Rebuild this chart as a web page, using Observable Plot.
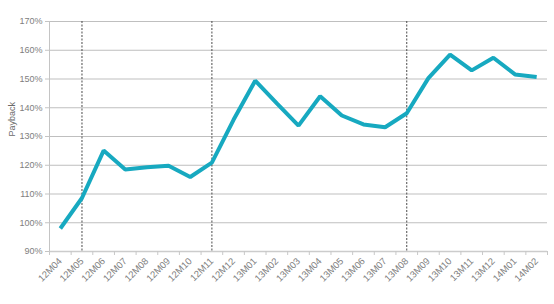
<!DOCTYPE html>
<html><head><meta charset="utf-8">
<script src="https://cdn.jsdelivr.net/npm/d3@7"></script>
<script src="https://cdn.jsdelivr.net/npm/@observablehq/plot@0.6"></script>
<style>body{margin:0;background:#fff} svg{display:block}</style>
</head><body><div id="chart"></div>
<script>
const months = ["12M04","12M05","12M06","12M07","12M08","12M09","12M10","12M11","12M12",
  "13M01","13M02","13M03","13M04","13M05","13M06","13M07","13M08","13M09","13M10","13M11","13M12",
  "14M01","14M02"];
const payback = [98.0,108.6,125.1,118.5,119.3,119.8,115.9,120.9,135.8,
  149.4,141.5,133.8,144.0,137.3,134.2,133.2,138.1,150.3,158.5,153.0,157.4,
  151.6,150.7];
const markers = ["12M05","12M11","13M08"];
const yTicks = [90,100,110,120,130,140,150,160,170];

const data = months.map((m, i) => ({i, m, v: payback[i]}));
const idx = m => months.indexOf(m);
const boundaries = d3.range(months.length + 1).map(i => i - 0.5);

const chart = Plot.plot({
  width: 554, height: 304,
  marginLeft: 49, marginRight: 7, marginTop: 21, marginBottom: 53,
  style: {fontFamily: "'Liberation Sans', Arial, sans-serif", fontSize: "9px", color: "#808080", background: "#fff"},
  x: {type: "linear", domain: [-0.5, months.length - 0.5]},
  y: {domain: [90, 170]},
  marks: [
    Plot.ruleY(yTicks.slice(1), {stroke: "#bfbfbf", strokeWidth: 1, strokeOpacity: 1}),
    Plot.ruleY([90], {stroke: "#cccccc", strokeWidth: 1.5, strokeOpacity: 1}),
    Plot.ruleX([-0.5], {stroke: "#c4c4c4", strokeWidth: 1, strokeOpacity: 1}),
    Plot.axisY({ticks: yTicks, tickFormat: d => d + "%", tickSize: 4, tickPadding: 3, label: null, stroke: "#c4c4c4", strokeOpacity: 1}),
    Plot.text(["Payback"], {frameAnchor: "left", dx: -37, rotate: -90, fill: "#6a6a6a", fontSize: 9}),
    Plot.axisX({ticks: boundaries, tickFormat: () => "", tickSize: 4, stroke: "#c8c8c8", strokeOpacity: 1, label: null}),
    Plot.axisX({ticks: d3.range(months.length), tickFormat: i => months[i], tickSize: 0, tickRotate: -45, tickPadding: 8, fontSize: 9.5, label: null}),
    Plot.ruleX(markers.map(idx), {stroke: "#4a4a4a", strokeWidth: 1, strokeDasharray: "2,1.5"}),
    Plot.line(data, {x: "i", y: "v", stroke: "#17a9c0", strokeWidth: 4, strokeLinejoin: "miter", strokeLinecap: "butt"})
  ]
});
document.getElementById("chart").appendChild(chart);
</script>
</body></html>
